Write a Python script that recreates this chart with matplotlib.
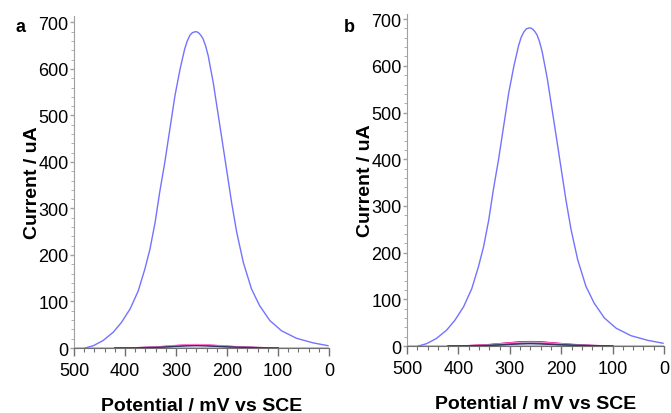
import numpy as np
import matplotlib
matplotlib.use("Agg")
import matplotlib.pyplot as plt
from matplotlib.ticker import MultipleLocator

plt.rcParams["font.family"] = ["Liberation Sans", "DejaVu Sans"]

# Main voltammogram, potential in mV vs SCE, current in uA
pot_main = [478, 462, 443, 423, 407, 390, 374, 361, 351, 341, 332, 322, 312, 302,
            292, 283, 278, 273, 268, 263, 259, 255, 251, 247, 242, 237, 227, 221,
            211, 201, 191, 181, 168, 152, 136, 116, 93, 64, 31, 2]
cur_a = [0, 5, 16, 34, 55, 84, 123, 170, 213, 270, 335, 399, 471, 543,
         600, 643, 660, 672, 678, 680, 680, 677, 672, 665, 650, 629, 571, 528,
         457, 385, 313, 249, 184, 127, 91, 59, 37, 21, 11, 5]
cur_b = [0, 5, 16, 34, 55, 84, 123, 170, 213, 270, 335, 399, 471, 543,
         600, 643, 661, 672, 679, 681, 681, 678, 673, 666, 651, 630, 572, 529,
         458, 386, 314, 250, 185, 128, 92, 60, 38, 22, 12, 6]

# Small background curves
pot_small = [420, 380, 340, 300, 280, 260, 240, 220, 180, 140, 100]
small_a = {
    "#cc0099": [0, 0.5, 2, 5, 6.5, 7, 6.5, 5, 2.5, 1, 0],
    "#2e8b8b": [0, 0.4, 1.5, 4, 5.5, 6, 5.5, 4, 2, 0.8, 0],
    "#ff77cc": [0, 0.6, 2.2, 5.5, 7, 7.5, 7, 5.5, 2.8, 1, 0],
    "#333366": [0, 0.3, 1.2, 3.5, 4.5, 5, 4.5, 3.5, 1.8, 0.6, 0],
}
small_b = {
    "#cc0099": [0, 0.8, 3, 7, 9, 9.5, 9, 7, 3.5, 1.2, 0],
    "#ff3399": [0, 0.7, 2.8, 6.5, 8.5, 9, 8.5, 6.5, 3, 1, 0],
    "#ff99dd": [0, 0.6, 2.2, 5.5, 7, 7.5, 7, 5.5, 2.8, 1, 0],
    "#2e8b8b": [0, 0.4, 1.5, 4, 5.5, 6, 5.5, 4, 2, 0.8, 0],
    "#333366": [0, 0.3, 1.2, 3.5, 4.5, 5, 4.5, 3.5, 1.8, 0.6, 0],
}
pot_base = [500, 0]
cur_base = [0, 0]

fig = plt.figure(figsize=(6.71, 4.14), dpi=100)
ax_a = fig.add_axes([0.1103, 0.157, 0.380, 0.802])
ax_b = fig.add_axes([0.6066, 0.1618, 0.383, 0.802])


def style(ax, small, cur, top):
    ax.plot(pot_base, cur_base, color="#7fd0d0", lw=1.2, zorder=2)
    for col, vals in small.items():
        ax.plot(pot_small, vals, color=col, lw=1.0, zorder=3)
    ax.plot(pot_main, cur, color="#7373ff", lw=1.0, zorder=4)
    ax.set_xlim(500, 0)
    ax.set_ylim(0, top)
    ax.xaxis.set_major_locator(MultipleLocator(100))
    ax.xaxis.set_minor_locator(MultipleLocator(20))
    ax.yaxis.set_major_locator(MultipleLocator(100))
    ax.yaxis.set_minor_locator(MultipleLocator(20))
    for s in ("top", "right"):
        ax.spines[s].set_visible(False)
    ax.spines["left"].set_color("#a0a0a0")
    ax.spines["bottom"].set_color("#707070")
    ax.tick_params(axis="x", which="major", length=6, width=1, color="#707070",
                   labelsize=13, pad=4)
    ax.tick_params(axis="x", which="minor", length=3, width=0.8, color="#707070")
    ax.tick_params(axis="y", which="major", length=3, width=1, color="#a0a0a0",
                   labelsize=13, pad=1)
    ax.tick_params(axis="y", which="minor", length=2, width=0.6, color="#a0a0a0")
    ax.set_xlabel("Potential / mV vs SCE", fontsize=14, fontweight="bold", labelpad=13)
    ax.set_ylabel("Current / uA", fontsize=14, fontweight="bold", labelpad=-2)


style(ax_a, small_a, cur_a, 714)
style(ax_b, small_b, cur_b, 711)

fig.text(16 / 671, 1 - 27 / 414, "a", fontsize=13, fontweight="bold", va="center")
fig.text(344 / 671, 1 - 28 / 414, "b", fontsize=13, fontweight="bold", va="center")

fig.savefig("out.png", dpi=100)
